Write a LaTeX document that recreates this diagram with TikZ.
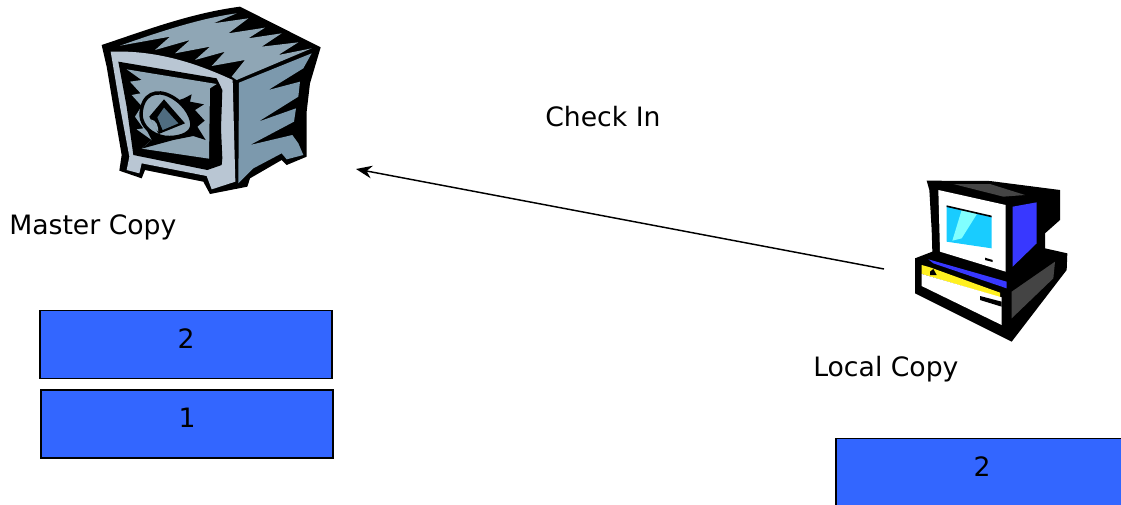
\documentclass[tikz,border=0pt]{standalone}
\usepackage{fontspec}
\usetikzlibrary{arrows.meta}
\setmainfont{DejaVu Sans}
\definecolor{boxblue}{HTML}{3366FF}
\definecolor{safemid}{HTML}{8FA6B5}
\definecolor{safelight}{HTML}{B9C6D3}
\definecolor{safeside}{HTML}{7C99AD}
\definecolor{safedark}{HTML}{4F6C80}
\definecolor{pccyan}{HTML}{19CCFF}
\definecolor{pclight}{HTML}{80FFFF}
\definecolor{pcblue}{HTML}{3838FF}
\definecolor{pcyellow}{HTML}{FFF020}
\definecolor{pcgrey}{HTML}{444444}
\tikzset{
  lbl/.style={font=\fontsize{20pt}{24pt}\selectfont,text=black,inner sep=0pt},
  stackbox/.style={draw=black,line width=1pt,fill=boxblue,minimum width=219pt,minimum height=51pt,inner sep=0pt,font=\fontsize{20pt}{24pt}\selectfont},
  conn/.style={draw=black,line width=1.1pt,-{Stealth[length=12pt,width=9.5pt]}}
}
\begin{document}
\begin{tikzpicture}[x=0.75pt,y=-0.75pt]
\useasboundingbox (0,0) rectangle (1121,504);
\clip (0,0) rectangle (1121,504);
% safe silhouette and side
\begin{scope}[shift={(90,0)},x=0.25pt,y=-0.25pt]
\fill[black] (35,135) .. controls (170,90) and (300,40) .. (450,20) -- (692,142) -- (660,250) -- (650,335) -- (650,470) -- (590,495) -- (575,480) -- (480,535) -- (472,560) -- (360,582) -- (340,545) -- (165,510) -- (155,535) -- (88,512) -- (95,465) -- (70,320) -- (50,200) -- cycle;
\fill[safeside] (447,248) -- (665,160) -- (640,205) -- (535,270) -- (630,245) -- (625,290) -- (505,365) -- (618,325) -- (612,365) -- (480,435) -- (607,405) -- (625,430) -- (640,465) -- (590,478) -- (575,460) -- (490,505) -- (445,550) -- cycle;
\fill[safelight] (62,155) .. controls (200,150) and (320,190) .. (428,240) -- (436,545) -- (365,568) -- (350,528) -- (155,490) -- (148,520) -- (110,510) -- (118,470) -- (90,320) -- cycle;
\fill[black] (85,185) -- (380,235) -- (397,270) -- (393,385) -- (397,475) -- (395,495) -- (352,510) -- (130,465) -- (110,320) -- cycle;
\end{scope}
% safe top face
\begin{scope}[shift={(100,5)},x=0.25pt,y=-0.25pt]
\fill[safemid] (60,122) .. controls (180,80) and (300,40) .. (410,25) -- (340,55) -- (445,40) -- (385,85) -- (495,68) -- (445,100) -- (545,85) -- (485,125) -- (595,112) -- (535,150) -- (635,130) -- (410,225) -- (395,215) -- (435,165) -- (335,183) -- (375,140) -- (285,165) -- (330,125) -- (225,145) -- (270,105) -- (165,135) -- (210,95) -- cycle;
\end{scope}
% safe door
\begin{scope}[shift={(110,60)},x=0.25pt,y=-0.25pt]
\fill[safemid] (50,28) -- (320,72) -- (300,85) -- (297,296) -- (95,266) -- (125,240) -- (80,208) -- (100,205) -- (75,170) -- (95,138) -- (65,105) -- (92,100) -- (60,65) -- (95,60) -- cycle;
\fill[black] (100,190) -- (125,240) -- (95,266) -- (190,240) -- (250,228) -- (287,240) -- (262,200) -- (284,182) -- (255,150) -- (282,133) -- (240,125) -- (245,103) -- (222,115) -- (180,130) -- (130,200) -- cycle;
\fill[safemid,draw=black,line width=2.6pt] (93,165) .. controls (95,100) and (140,85) .. (185,110) .. controls (230,135) and (250,180) .. (245,200) .. controls (240,225) and (200,235) .. (165,232) .. controls (125,225) and (95,200) .. cycle;
\fill[black] (162,118) -- (225,190) -- (146,222) -- (118,170) -- cycle;
\fill[safedark] (162,143) -- (205,190) -- (158,210) -- (142,172) -- cycle;
\fill[safemid] (122,178) .. controls (140,180) and (145,200) .. (145,215) -- (135,205) -- cycle;
\end{scope}
% computer
\begin{scope}[shift={(890,170)},x=0.25pt,y=-0.25pt]
\fill[black] (110,32) -- (300,33) -- (510,60) -- (510,150) -- (465,190) -- (465,235) -- (532,250) -- (530,300) -- (365,515) -- (75,370) -- (75,265) -- (127,245) -- (125,180) -- (118,60) -- cycle;
\fill[pcgrey] (190,42) -- (300,42) -- (405,75) -- (340,80) -- cycle;
\fill[white] (145,60) -- (347,105) -- (347,305) -- (150,245) -- cycle;
\fill[pccyan] (170,108) -- (305,140) -- (305,235) -- (170,215) -- cycle;
\fill[pclight] (215,120) -- (262,130) -- (215,205) -- (187,212) -- cycle;
\fill[black] (170,106) -- (305,137) -- (305,142) -- (170,111) -- cycle;
\fill[black] (285,263) -- (308,270) -- (308,276) -- (285,270) -- cycle;
\fill[pcblue] (368,110) -- (440,97) -- (440,220) -- (368,290) -- cycle;
\fill[pcblue] (115,268) -- (350,335) -- (350,355) -- (130,280) -- cycle;
\fill[pcyellow] (95,285) -- (120,292) -- (330,368) -- (330,382) -- (95,312) -- cycle;
\fill[white] (95,312) -- (335,382) -- (335,465) -- (95,348) -- cycle;
\fill[black] (120,305) -- (130,297) -- (140,315) -- (120,315) -- cycle;
\fill[black] (270,378) -- (335,395) -- (335,410) -- (270,390) -- cycle;
\fill[pcgrey] (365,365) -- (495,275) -- (490,325) -- (365,445) -- cycle;
\end{scope}
\coordinate (safeend) at (356,169);
\coordinate (pcend) at (884,269);
\draw[conn] (pcend) -- (safeend);
\node[lbl,anchor=west] (master) at (9,227) {Master Copy};
\node[lbl,anchor=west] (checkin) at (545,116.5) {Check In};
\node[lbl,anchor=west] (local) at (813,369) {Local Copy};
\node[stackbox] (mtwo) at (186,344.5) {\raisebox{9.5pt}{2}};
\node[stackbox] (mone) at (187,424) {\raisebox{9.5pt}{1}};
\node[stackbox] (ltwo) at (982,472.5) {\raisebox{9.5pt}{2}};
\end{tikzpicture}
\end{document}
